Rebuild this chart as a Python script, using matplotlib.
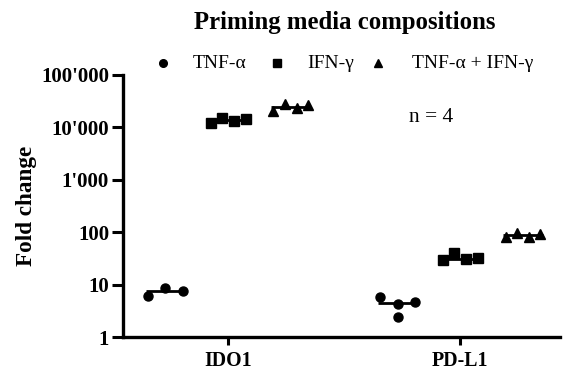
import matplotlib.pyplot as plt
import numpy as np
from matplotlib.lines import Line2D
from matplotlib.ticker import FixedLocator, FuncFormatter, NullLocator

plt.rcParams['font.family'] = ['Liberation Serif', 'DejaVu Serif']

# fold change values (n = 4 donors)
genes = ['IDO1', 'PD-L1']
conditions = ['TNF-\u03b1', 'IFN-\u03b3', 'TNF-\u03b1 + IFN-\u03b3']
ido1_tnf = [6.1, 8.7, 7.6]
ido1_ifn = [12000, 14900, 13200, 14500]
ido1_both = [20900, 28000, 23000, 27000]
pdl1_tnf = [5.7, 4.2, 2.4, 4.6]
pdl1_ifn = [29.5, 40.7, 30.4, 32.2]
pdl1_both = [80, 95, 82, 93]
y_ticks = [1, 10, 100, 1000, 10000, 100000]

markers = ['o', 's', '^']
offsets = [-0.27, 0.0, 0.27]
data = [[ido1_tnf, ido1_ifn, ido1_both], [pdl1_tnf, pdl1_ifn, pdl1_both]]


def spread(n, step=0.05):
    # horizontal spreading of points like a scatter dot plot
    return (np.arange(n) - (n - 1) / 2) * step


fig = plt.figure(figsize=(5.64, 3.73), dpi=100)
ax = fig.add_axes([0.218, 0.0965, 0.775, 0.7025])

for gi, gene_vals in enumerate(data):
    for ci, vals in enumerate(gene_vals):
        xc = gi + offsets[ci]
        if gi == 1 and ci == 0:
            xs = xc + np.array([-0.075, 0.0, 0.0, 0.075])
        else:
            step = 0.075 if len(vals) == 3 else 0.05
            xs = xc + spread(len(vals), step)
        ax.plot(xs, vals, linestyle='none', marker=markers[ci], color='black',
                markersize=6.5, zorder=3, clip_on=False)
        med = np.median(vals)
        ax.plot([xs.min() - 0.01, xs.max() + 0.01], [med, med], color='black',
                linewidth=2, zorder=2, solid_capstyle='butt')

ax.set_yscale('log')
ax.set_ylim(1, 100000)
ax.set_xlim(-0.453, 1.43)
ax.yaxis.set_major_locator(FixedLocator(y_ticks))
ax.yaxis.set_minor_locator(NullLocator())
ax.yaxis.set_major_formatter(FuncFormatter(lambda v, p: f'{int(v):,}'.replace(',', "'")))
ax.set_xticks([0, 1])
ax.set_xticklabels(genes, fontsize=14.3, fontweight='bold')
for lab in ax.get_yticklabels():
    lab.set_fontsize(15)
    lab.set_fontweight('bold')

for side in ['top', 'right']:
    ax.spines[side].set_visible(False)
for side in ['left', 'bottom']:
    ax.spines[side].set_linewidth(2.4)
ax.tick_params(axis='y', width=2.2, length=8, direction='out', pad=2)
ax.tick_params(axis='x', width=2.2, length=6, direction='out', pad=4)

ax.set_ylabel('Fold change', fontsize=16.7, fontweight='bold', labelpad=3)

fig.text(409 / 564, 1 - 118 / 373, 'n = 4', fontsize=15.5, ha='left', va='center')

fig.text(345 / 564, 1 - 22 / 373, 'Priming media compositions', fontsize=17.8,
         fontweight='bold', ha='center', va='center')

# legend laid out by hand, as in the original
leg_marker_x = [163, 277, 378]
leg_text_x = [193, 307, 412]
leg_y = 1 - 63 / 373
for m, mx, tx, label in zip(markers, leg_marker_x, leg_text_x, conditions):
    fig.add_artist(Line2D([mx / 564], [leg_y], transform=fig.transFigure, linestyle='none',
                          marker=m, color='black', markersize=5.5))
    fig.text(tx / 564, leg_y, label, fontsize=14, ha='left', va='center')

fig.savefig('out.png', dpi=100)
